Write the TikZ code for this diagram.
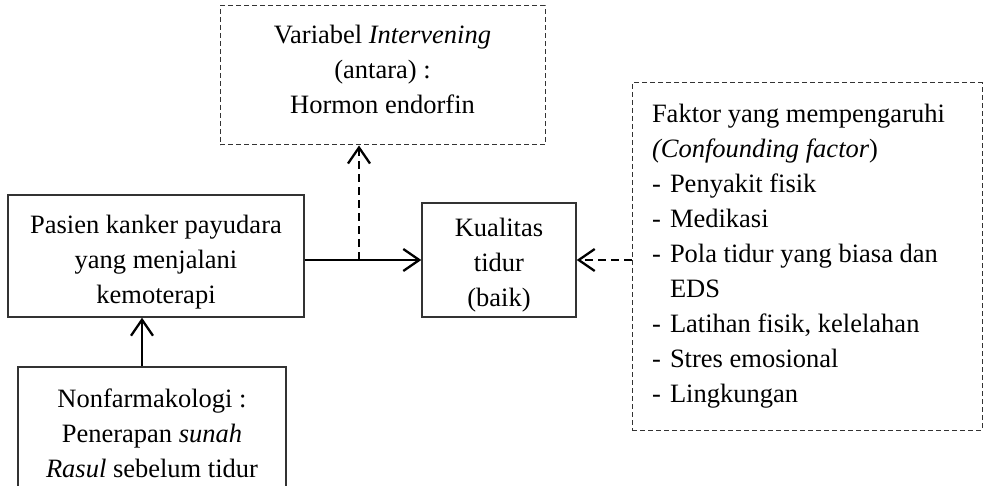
\documentclass[tikz,border=0pt]{standalone}
\usepackage{fontspec}
\setmainfont{Liberation Serif}
\usetikzlibrary{arrows.meta}
\begin{document}
\begin{tikzpicture}[x=1pt,y=-1pt,
  every node/.style={font=\fontsize{26.5}{35}\selectfont},
  txt/.style={align=center, inner sep=0pt},
  solidbox/.style={draw=black!80, line width=1.4pt, inner sep=0pt},
  dashbox/.style={draw=black!80, line width=1pt, dash pattern=on 5pt off 3pt, inner sep=0pt},
  arr/.style={draw=black, line width=2.3pt, -{Straight Barb[length=16pt,width=22pt]}},
  darr/.style={arr, dash pattern=on 8pt off 5pt}]
\useasboundingbox (0,0) rectangle (984,486);
\clip (0,0) rectangle (984,486);
\node[dashbox, minimum width=325pt, minimum height=139pt,
  label={[txt, name=tbt, yshift=6pt]center:{Variabel \textit{Intervening}\\(antara) :\\Hormon endorfin}}] (tb) at (382.5,75.5) {};
\node[solidbox, minimum width=296pt, minimum height=122pt,
  label={[txt, name=lbt, yshift=-6.5pt]center:{Pasien kanker payudara\\yang menjalani\\kemoterapi}}] (lb) at (156,256) {};
\node[solidbox, minimum width=154pt, minimum height=114pt,
  label={[txt, name=cbt, yshift=-5pt]center:{Kualitas\\tidur\\(baik)}}] (cb) at (499,260) {};
\node[solidbox, align=center, minimum width=268pt, minimum height=132pt] (bb) at (152,433)
  {Nonfarmakologi :\\Penerapan \textit{sunah}\\\textit{Rasul} sebelum tidur};
\node[dashbox, align=flush left, text width=310pt, inner xsep=20pt, minimum width=350pt, minimum height=347pt] (rb) at (807,256.5)
  {Faktor yang mempengaruhi\\
   \textit{(Confounding factor})\\
   \makebox[18pt][l]{-}Penyakit fisik\\
   \makebox[18pt][l]{-}Medikasi\\
   \makebox[18pt][l]{-}Pola tidur yang biasa dan\\
   \hspace*{18pt}EDS\\
   \makebox[18pt][l]{-}Latihan fisik, kelelahan\\
   \makebox[18pt][l]{-}Stres emosional\\
   \makebox[18pt][l]{-}Lingkungan};
\coordinate (jx) at (359,0);
\coordinate (ax) at (142,0);
\draw[arr] (lb.east |- cb.west) -- (cb.west);
\draw[darr] (jx |- cb.west) -- (jx |- tb.south);
\draw[arr] (ax |- bb.north) -- (ax |- lb.south);
\draw[darr] (rb.west |- cb.east) -- (cb.east);
\end{tikzpicture}
\end{document}
